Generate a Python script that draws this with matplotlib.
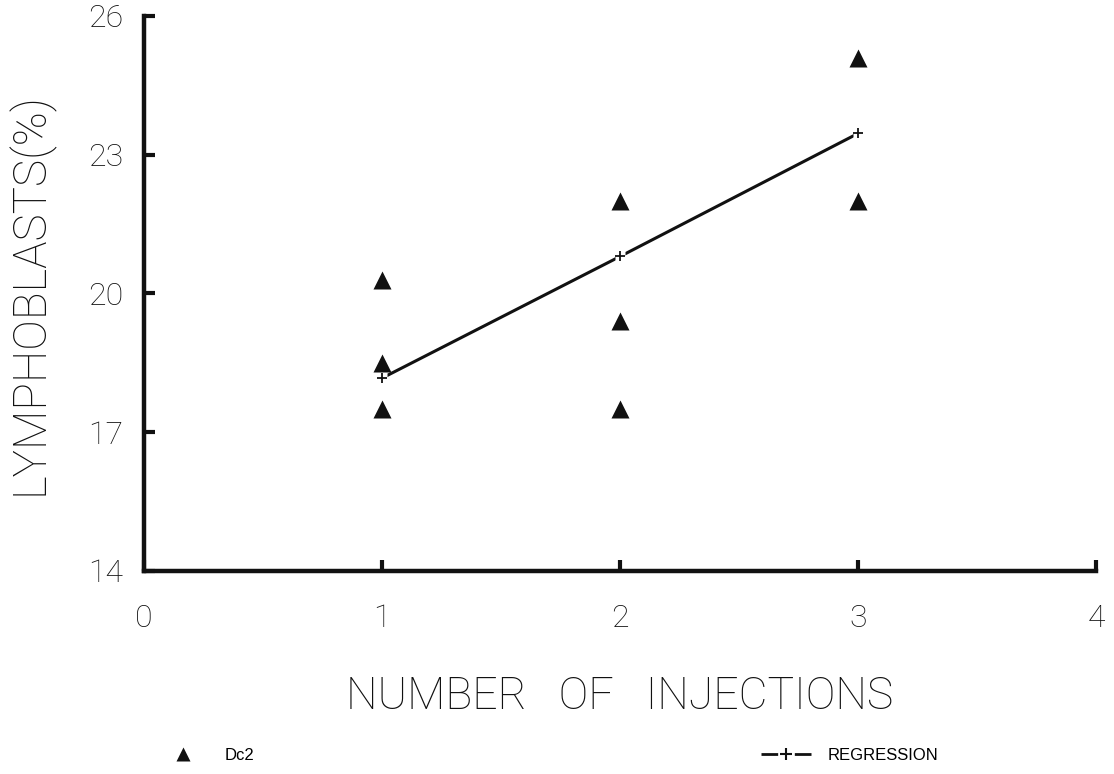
import matplotlib
matplotlib.use("Agg")
import matplotlib.pyplot as plt
from matplotlib.lines import Line2D

plt.rcParams['font.family'] = ['Roboto', 'DejaVu Sans']
plt.rcParams['font.weight'] = 'light'
plt.rcParams['axes.labelweight'] = 'light'

# Dc2 measurements per number of injections
inj = [1, 1, 1, 2, 2, 2, 3, 3]
lymph = [20.3, 18.5, 17.5, 22.0, 19.4, 17.5, 25.1, 22.0]

# fitted regression values
reg_x = [1, 2, 3]
reg_y = [18.17, 20.8, 23.46]

xticks = [0, 1, 2, 3, 4]
yticks = [14, 17, 20, 23, 26]

ink = '#111111'

fig = plt.figure(figsize=(11.14, 7.74), dpi=100)
ax = fig.add_axes([0.1293, 0.2623, 0.8546, 0.7171])

# regression line, broken around the '+' points
ax.plot(reg_x, reg_y, '-', color=ink, lw=2.2, zorder=2)
ax.plot(reg_x, reg_y, 's', color='white', ms=7, mec='none', zorder=3)
ax.plot(reg_x, reg_y, '+', color=ink, ms=7, mew=1.3, zorder=4)
ax.plot(inj, lymph, '^', color=ink, ms=13, mec='none', zorder=5)

ax.set_xlim(0, 4)
ax.set_ylim(14, 26)
ax.set_xticks(xticks)
ax.set_yticks(yticks)
ax.set_xticklabels([str(v) for v in xticks])
ax.set_yticklabels([str(v) for v in yticks])

for s in ['top', 'right']:
    ax.spines[s].set_visible(False)
for s in ['left', 'bottom']:
    ax.spines[s].set_linewidth(3.2)
    ax.spines[s].set_color(ink)
    ax.spines[s].set_capstyle('projecting')

ax.tick_params(axis='both', direction='in', length=8, width=3, colors=ink,
               labelsize=23, labelcolor=ink)
ax.tick_params(axis='x', pad=24)
ax.tick_params(axis='y', pad=15)

ax.set_xlabel('NUMBER   OF   INJECTIONS', fontsize=32, color=ink,
              va='center', ha='center')
ax.xaxis.set_label_coords(0.5, -0.227)
ax.set_ylabel('LYMPHOBLASTS(%)', fontsize=33, color=ink,
              va='center', ha='center')
ax.yaxis.set_label_coords(-0.1197, 0.5)

# legend along the bottom edge
h_dc2 = Line2D([], [], ls='none', marker='^', color=ink, ms=10, mec='none')
h_reg = Line2D([], [], color=ink, lw=2, ls=(0, (6, 6)),
               marker='+', ms=9, mew=1.5)
fig.legend([h_dc2, h_reg], ['Dc2', 'REGRESSION'], ncol=2, frameon=False,
           loc='center left', bbox_to_anchor=(0.1418, 0.0245),
           prop={'family': 'Liberation Sans', 'size': 12},
           handlelength=3.0, handletextpad=1.0,
           columnspacing=30.4, borderpad=0, borderaxespad=0, numpoints=1)

fig.savefig('out.png', dpi=100, facecolor='white')
